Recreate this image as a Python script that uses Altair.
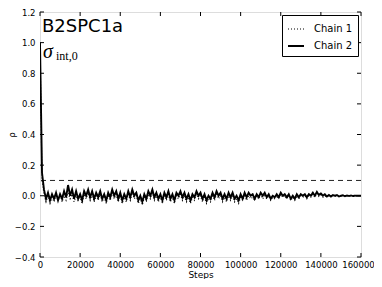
import altair as alt
import pandas as pd

steps = [i * 1000 for i in range(161)]

chain1 = [1.0, 0.1, 0.01, -0.04, 0.0, -0.05, -0.01, -0.04, 0.0, -0.03,
          0.01, -0.04, 0.0, -0.03, 0.02, -0.02, 0.01, -0.04, 0.0, -0.03,
          -0.01, -0.05, 0.01, -0.02, 0.02, -0.03, 0.01, -0.04, 0.0, -0.03,
          0.01, -0.04, -0.01, -0.05, 0.0, -0.03, 0.02, -0.02, 0.01, -0.04,
          0.0, -0.05, -0.01, -0.04, 0.01, -0.03, 0.02, -0.02, 0.0, -0.05,
          -0.02, -0.06, -0.01, -0.04, 0.01, -0.02, 0.02, -0.03, 0.0, -0.04,
          -0.01, -0.05, 0.0, -0.03, 0.01, -0.04, -0.01, -0.05, 0.0, -0.02,
          0.01, -0.03, 0.0, -0.04, -0.01, -0.05, -0.01, -0.03, 0.01, -0.02,
          0.0, -0.04, -0.01, -0.05, -0.02, -0.04, 0.0, -0.03, 0.01, -0.02,
          0.0, -0.04, -0.01, -0.04, 0.0, -0.03, 0.0, -0.04, -0.02, -0.05,
          -0.01, -0.03, 0.0, -0.03, 0.0, -0.02, -0.01, -0.03, 0.0, -0.02,
          0.01, -0.02, 0.0, -0.02, 0.0, -0.03, -0.01, -0.02, 0.0, -0.02,
          0.01, -0.01, 0.0, -0.02, 0.0, -0.03, -0.01, -0.03, 0.0, -0.02,
          0.0, -0.01, 0.0, -0.02, 0.0, -0.01, 0.01, -0.01, 0.015, -0.005,
          0.005, -0.01, 0.0, -0.01, 0.0, -0.008, 0.0, -0.005, 0.0, -0.005,
          0.0, -0.003, 0.0, -0.003, 0.0, -0.002, 0.0, -0.001, 0.0, 0.0, 0.0]

chain2 = [1.0, 0.15, 0.04, -0.02, 0.02, -0.03, 0.01, -0.02, 0.02, -0.03,
          0.01, -0.02, 0.03, -0.01, 0.07, 0.0, 0.04, -0.02, 0.03, -0.02,
          0.01, -0.03, 0.03, 0.0, 0.04, -0.01, 0.03, -0.02, 0.02, -0.01,
          0.03, -0.02, 0.01, -0.03, 0.02, -0.01, 0.04, 0.0, 0.03, -0.02,
          0.02, -0.03, 0.01, -0.02, 0.03, -0.01, 0.04, 0.0, 0.02, -0.03,
          0.0, -0.04, 0.01, -0.02, 0.03, 0.0, 0.04, -0.01, 0.02, -0.02,
          0.01, -0.03, 0.02, -0.01, 0.03, -0.02, 0.01, -0.03, 0.02, 0.0,
          0.03, -0.01, 0.02, -0.02, 0.01, -0.03, 0.01, -0.01, 0.03, 0.0,
          0.02, -0.02, 0.01, -0.03, 0.0, -0.02, 0.02, -0.01, 0.03, 0.0,
          0.02, -0.02, 0.01, -0.02, 0.02, -0.01, 0.02, -0.02, 0.0, -0.03,
          0.01, -0.02, 0.02, -0.01, 0.02, 0.0, 0.01, -0.02, 0.01, -0.01,
          0.02, 0.0, 0.02, -0.01, 0.01, -0.02, 0.0, -0.01, 0.01, -0.01,
          0.02, 0.0, 0.01, -0.01, 0.01, -0.02, 0.0, -0.02, 0.01, -0.01,
          0.01, 0.0, 0.01, -0.01, 0.01, 0.0, 0.02, 0.0, 0.025, 0.005,
          0.015, 0.0, 0.01, -0.005, 0.005, -0.005, 0.005, 0.0, 0.005, -0.005,
          0.0, 0.003, -0.003, 0.002, -0.002, 0.002, -0.002, 0.001, 0.0, 0.0, 0.0]

chains = ["Chain 1", "Chain 2"]
x_ticks = [0, 20000, 40000, 60000, 80000, 100000, 120000, 140000, 160000]
y_ticks = [-0.4, -0.2, 0.0, 0.2, 0.4, 0.6, 0.8, 1.0, 1.2]
threshold = [0.1]
title_txt = ["B2SPC1a"]
sigma_txt = ["σ"]
sub_txt = ["int,0"]

W, H = 321, 245

df = pd.concat([
    pd.DataFrame({"step": steps, "rho": chain1, "chain": chains[0]}),
    pd.DataFrame({"step": steps, "rho": chain2, "chain": chains[1]}),
])

xscale = alt.Scale(domain=[0, 160000], nice=False)
yscale = alt.Scale(domain=[-0.4, 1.2], nice=False)
xaxis = alt.Axis(values=x_ticks, format="d", tickSize=0, labelPadding=3,
                 labelOverlap=False, labelBound=False, labelFlush=False,
                 labelOffset={"condition": {"test": "datum.value === 160000", "value": -3}, "value": 0},
                 labelFont="DejaVu Sans", labelFontSize=8.5, labelColor="black",
                 title="Steps", titleFont="DejaVu Sans", titleFontSize=9,
                 titleFontWeight="normal", titleColor="black",
                 titleY=13, titleBaseline="top", domain=False, grid=False)
yaxis = alt.Axis(values=y_ticks, format=".1f", tickSize=0, labelPadding=5,
                 labelOverlap=False, labelBound=False, labelFlush=False,
                 labelFont="DejaVu Sans", labelFontSize=8.5, labelColor="black",
                 title="ρ", titleFont="DejaVu Sans", titleFontSize=8,
                 titleFontWeight="normal", titleColor="black",
                 titleX=-28, titleY=H / 2, titleBaseline="middle",
                 domain=False, grid=False)

leg = alt.Legend(title=None, orient="none", legendX=242, legendY=3,
                 strokeColor="black", fillColor="white", padding=5,
                 cornerRadius=0, symbolType="stroke", symbolSize=256,
                 symbolStrokeColor="black", labelFont="DejaVu Sans",
                 labelFontSize=10, labelColor="black", labelOffset=9,
                 rowPadding=3)

lines = alt.Chart(df).mark_line(clip=True, color="black").encode(
    x=alt.X("step:Q", scale=xscale, axis=xaxis),
    y=alt.Y("rho:Q", scale=yscale, axis=yaxis),
    strokeDash=alt.StrokeDash("chain:N", scale=alt.Scale(domain=chains, range=[[1, 2], [1, 0]]), legend=leg),
    strokeWidth=alt.StrokeWidth("chain:N", scale=alt.Scale(domain=chains, range=[1.1, 1.9]), legend=leg),
    order="step:Q",
)

dash = alt.Chart(pd.DataFrame({"y": threshold})).mark_rule(
    color="#222222", strokeWidth=1, strokeDash=[5, 4]).encode(
    y=alt.Y("y:Q", scale=yscale, axis=yaxis))

xt = pd.DataFrame({"step": x_ticks})
yt = pd.DataFrame({"rho": y_ticks})
tick_style = dict(color="black", strokeWidth=1)
xb = alt.Chart(xt).mark_rule(**tick_style).encode(
    x=alt.X("step:Q", scale=xscale, axis=xaxis), y=alt.value(H), y2=alt.value(H - 4))
xtp = alt.Chart(xt).mark_rule(**tick_style).encode(
    x=alt.X("step:Q", scale=xscale, axis=xaxis), y=alt.value(0), y2=alt.value(4))
yl = alt.Chart(yt).mark_rule(**tick_style).encode(
    y=alt.Y("rho:Q", scale=yscale, axis=yaxis), x=alt.value(0), x2=alt.value(4))
yr = alt.Chart(yt).mark_rule(**tick_style).encode(
    y=alt.Y("rho:Q", scale=yscale, axis=yaxis), x=alt.value(W), x2=alt.value(W - 4))

t1 = alt.Chart(pd.DataFrame({"t": title_txt})).mark_text(
    font="DejaVu Sans", fontSize=18, align="left", baseline="alphabetic", color="black").encode(
    text="t:N", x=alt.value(2), y=alt.value(20))
t2 = alt.Chart(pd.DataFrame({"t": sigma_txt})).mark_text(
    font="Liberation Serif", fontSize=20, fontStyle="italic", align="left",
    baseline="alphabetic", color="black").encode(
    text="t:N", x=alt.value(3), y=alt.value(46))
t3 = alt.Chart(pd.DataFrame({"t": sub_txt})).mark_text(
    font="Liberation Serif", fontSize=12, align="left", baseline="alphabetic", color="black").encode(
    text="t:N", x=alt.value(16), y=alt.value(48))

chart = alt.layer(dash, lines, xb, xtp, yl, yr, t1, t2, t3).properties(
    width=W, height=H,
    padding={"left": 32, "top": 4, "right": 13, "bottom": 22},
    autosize=alt.AutoSizeParams(type="none"),
).configure_view(stroke="black", strokeWidth=1).configure(background="white")

chart.save("out.html", embed_options={"renderer": "svg", "actions": False})
